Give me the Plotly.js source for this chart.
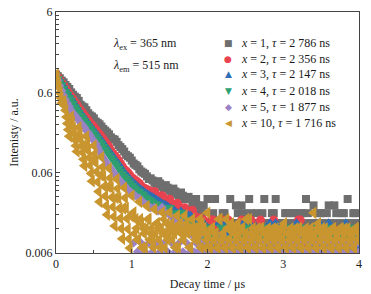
<!DOCTYPE html>
<html><head><meta charset="utf-8">
<script src="https://cdn.plot.ly/plotly-3.0.1.min.js"></script>
<style>html,body{margin:0;padding:0;background:#fff}#chart{width:371px;height:294px}</style>
</head><body><div id="chart"></div>
<script>
// Decay time (μs): main sampling, interleaved half-step sampling, and extra quarter-step sampling (x = 10)
const time = [0,0.05,0.1,0.15,0.2,0.25,0.3,0.35,0.4,0.45,0.5,0.55,0.6,0.65,0.7,0.75,0.8,0.85,0.9,0.95,1,1.05,1.1,1.15,1.2,1.25,1.3,1.35,1.4,1.45,1.5,1.55,1.6,1.65,1.7,1.75,1.8,1.85,1.9,1.95,2,2.05,2.1,2.15,2.2,2.25,2.3,2.35,2.4,2.45,2.5,2.55,2.6,2.65,2.7,2.75,2.8,2.85,2.9,2.95,3,3.05,3.1,3.15,3.2,3.25,3.3,3.35,3.4,3.45,3.5,3.55,3.6,3.65,3.7,3.75,3.8,3.85,3.9,3.95,4];
const timeHalf = [0.025,0.075,0.125,0.175,0.225,0.275,0.325,0.375,0.425,0.475,0.525,0.575,0.625,0.675,0.725,0.775,0.825,0.875,0.925,0.975,1.025,1.075,1.125,1.175,1.225,1.275,1.325,1.375,1.425,1.475,1.525,1.575,1.625,1.675,1.725,1.775,1.825,1.875,1.925,1.975,2.025,2.075,2.125,2.175,2.225,2.275,2.325,2.375,2.425,2.475,2.525,2.575,2.625,2.675,2.725,2.775,2.825,2.875,2.925,2.975,3.025,3.075,3.125,3.175,3.225,3.275,3.325,3.375,3.425,3.475,3.525,3.575,3.625,3.675,3.725,3.775,3.825,3.875,3.925,3.975];
const timeQuarter = [0.0125,0.0375,0.0625,0.0875,0.1125,0.1375,0.1625,0.1875,0.2125,0.2375,0.2625,0.2875,0.3125,0.3375,0.3625,0.3875,0.4125,0.4375,0.4625,0.4875,0.5125,0.5375,0.5625,0.5875,0.6125,0.6375,0.6625,0.6875,0.7125,0.7375,0.7625,0.7875,0.8125,0.8375,0.8625,0.8875,0.9125,0.9375,0.9625,0.9875,1.0125,1.0375,1.0625,1.0875,1.1125,1.1375,1.1625,1.1875,1.2125,1.2375,1.2625,1.2875,1.3125,1.3375,1.3625,1.3875,1.4125,1.4375,1.4625,1.4875,1.5125,1.5375,1.5625,1.5875,1.6125,1.6375,1.6625,1.6875,1.7125,1.7375,1.7625,1.7875,1.8125,1.8375,1.8625,1.8875,1.9125,1.9375,1.9625,1.9875];
const timeQuarterLate = [2.0125,2.0375,2.0625,2.0875,2.1125,2.1375,2.1625,2.1875,2.2125,2.2375,2.2625,2.2875,2.3125,2.3375,2.3625,2.3875,2.4125,2.4375,2.4625,2.4875,2.5125,2.5375,2.5625,2.5875,2.6125,2.6375,2.6625,2.6875,2.7125,2.7375,2.7625,2.7875,2.8125,2.8375,2.8625,2.8875,2.9125,2.9375,2.9625,2.9875,3.0125,3.0375,3.0625,3.0875,3.1125,3.1375,3.1625,3.1875,3.2125,3.2375,3.2625,3.2875,3.3125,3.3375,3.3625,3.3875,3.4125,3.4375,3.4625,3.4875,3.5125,3.5375,3.5625,3.5875,3.6125,3.6375,3.6625,3.6875,3.7125,3.7375,3.7625,3.7875,3.8125,3.8375,3.8625,3.8875,3.9125,3.9375,3.9625,3.9875];

const seriesNames = ['<i>x</i> = 1, <i>τ</i> = 2 786 ns','<i>x</i> = 2, <i>τ</i> = 2 356 ns','<i>x</i> = 3, <i>τ</i> = 2 147 ns','<i>x</i> = 4, <i>τ</i> = 2 018 ns','<i>x</i> = 5, <i>τ</i> = 1 877 ns','<i>x</i> = 10, <i>τ</i> = 1 716 ns'];

// x = 1
const x1 = [1.0,0.90,0.80,0.70,0.60,0.53,0.47,0.40,0.36,0.31,
0.285,0.25,0.225,0.20,0.18,0.158,0.145,0.125,0.11,0.096,
0.085,0.075,0.066,0.060,0.054,0.051,0.045,0.047,0.040,0.042,
0.036,0.038,0.032,0.034,0.028,0.030,0.0235,0.0282,0.0188,0.0235,
0.0282,0.0141,0.0282,0.0141,0.0188,0.0141,0.0282,0.0141,0.0188,0.0235,
0.0141,0.0282,0.0141,0.0188,0.0141,0.0282,0.0141,0.0188,0.0282,0.0141,
0.0141,0.0188,0.0141,0.0188,0.0141,0.0188,0.0282,0.0141,0.0235,0.0141,
0.0188,0.0141,0.0235,0.0141,0.0188,0.0141,0.0188,0.0282,0.0141,0.0188,
0.0141];
const x1Half = [0.95,0.84,0.74,0.66,0.56,0.51,0.42,0.39,0.33,0.30,
0.26,0.24,0.21,0.19,0.165,0.155,0.132,0.118,0.10,0.092,
0.078,0.072,0.062,0.058,0.050,0.048,0.043,0.044,0.038,0.039,
0.034,0.035,0.030,0.031,0.0282,0.0282,0.0235,0.0235,0.0188,0.0141,
0.0141,0.0188,0.0141,0.0141,0.0188,0.0141,0.0141,0.0235,0.0141,0.0188,
0.0141,0.0188,0.0141,0.0141,0.0188,0.0141,0.0141,0.0188,0.0141,0.0141,
0.0188,0.0141,0.0188,0.0141,0.0188,0.0141,0.0188,0.0141,0.0141,0.0188,
0.0141,0.0188,0.0141,0.0235,0.0141,0.0188,0.0141,0.0141,0.0188,0.0141];
// x = 2
const x2 = [1.0,0.86,0.73,0.62,0.53,0.45,0.385,0.335,0.29,0.25,
0.222,0.192,0.168,0.145,0.125,0.104,0.092,0.078,0.066,0.060,
0.052,0.048,0.044,0.039,0.037,0.034,0.035,0.030,0.031,0.027,
0.028,0.024,0.025,0.021,0.022,0.019,0.0205,0.0154,0.0165,0.0154,
0.0115,0.0154,0.0115,0.0077,0.0154,0.0115,0.0115,0.0077,0.0115,0.0154,
0.0115,0.0077,0.0115,0.0115,0.0154,0.0077,0.0115,0.0115,0.0077,0.0115,
0.0115,0.0077,0.0115,0.0115,0.0154,0.0115,0.0077,0.0115,0.0115,0.0077,
0.0115,0.0115,0.0115,0.0077,0.0115,0.0115,0.0077,0.0115,0.0115,0.0077,
0.0115];
const x2Half = [0.93,0.79,0.67,0.57,0.49,0.42,0.36,0.31,0.27,0.235,
0.205,0.18,0.155,0.135,0.113,0.098,0.085,0.072,0.063,0.056,
0.050,0.046,0.041,0.038,0.036,0.033,0.032,0.029,0.029,0.026,
0.025,0.023,0.023,0.020,0.0195,0.019,0.0175,0.0154,0.0154,0.0115,
0.0115,0.0154,0.0077,0.0115,0.0115,0.0154,0.0077,0.0115,0.0115,0.0077,
0.0115,0.0154,0.0077,0.0115,0.0115,0.0077,0.0115,0.0154,0.0115,0.0077,
0.0115,0.0115,0.0077,0.0115,0.0154,0.0077,0.0115,0.0115,0.0077,0.0115,
0.0115,0.0077,0.0115,0.0115,0.0077,0.0115,0.0115,0.0077,0.0115,0.0115];
// x = 3
const x3 = [1.0,0.84,0.70,0.59,0.50,0.42,0.36,0.31,0.265,0.23,
0.20,0.175,0.152,0.13,0.112,0.096,0.083,0.071,0.060,0.054,
0.047,0.043,0.039,0.036,0.033,0.031,0.029,0.027,0.025,0.024,
0.022,0.021,0.019,0.020,0.0178,0.0178,0.0143,0.0143,0.0107,0.0143,
0.0107,0.0107,0.0071,0.0143,0.0107,0.0143,0.0107,0.0071,0.0107,0.0107,
0.0071,0.0143,0.0107,0.0071,0.0107,0.0107,0.0071,0.0107,0.0143,0.0071,
0.0107,0.0107,0.0071,0.0107,0.0071,0.0107,0.0107,0.0071,0.0107,0.0107,
0.0071,0.0107,0.0143,0.0071,0.0107,0.0071,0.0107,0.0107,0.0071,0.0107,
0.0071];
const x3Half = [0.92,0.77,0.64,0.54,0.46,0.39,0.33,0.285,0.245,0.215,
0.187,0.163,0.14,0.12,0.104,0.089,0.077,0.065,0.057,0.050,
0.045,0.041,0.037,0.034,0.032,0.030,0.028,0.026,0.0245,0.023,
0.0215,0.020,0.0178,0.0178,0.0143,0.0178,0.0143,0.0107,0.0143,0.0107,
0.0107,0.0071,0.0107,0.0143,0.0107,0.0071,0.0107,0.0107,0.0071,0.0143,
0.0107,0.0071,0.0107,0.0107,0.0071,0.0107,0.0143,0.0071,0.0107,0.0107,
0.0071,0.0107,0.0107,0.0143,0.0071,0.0107,0.0107,0.0071,0.0107,0.0143,
0.0107,0.0071,0.0107,0.0107,0.0071,0.0107,0.0143,0.0107,0.0071,0.0107];
// x = 4
const x4 = [1.0,0.82,0.68,0.57,0.48,0.40,0.34,0.29,0.25,0.215,
0.185,0.16,0.138,0.118,0.10,0.086,0.074,0.063,0.054,0.048,
0.042,0.038,0.035,0.032,0.029,0.027,0.025,0.024,0.022,0.021,
0.0223,0.019,0.018,0.0195,0.016,0.015,0.0135,0.0135,0.012,0.0102,
0.0126,0.0094,0.0094,0.0063,0.0126,0.0094,0.0063,0.0094,0.0094,0.0126,
0.0063,0.0094,0.0094,0.0063,0.0094,0.0126,0.0094,0.0063,0.0094,0.0094,
0.0063,0.0094,0.0126,0.0094,0.0063,0.0094,0.0094,0.0063,0.0094,0.0126,
0.0094,0.0063,0.0094,0.0094,0.0063,0.0094,0.0126,0.0094,0.0063,0.0094,
0.0094];
const x4Half = [0.90,0.75,0.62,0.52,0.44,0.37,0.31,0.27,0.23,0.20,
0.172,0.148,0.128,0.109,0.093,0.08,0.068,0.058,0.051,0.045,
0.040,0.036,0.033,0.030,0.028,0.026,0.0245,0.023,0.0215,0.020,
0.019,0.0185,0.017,0.0165,0.0155,0.014,0.0126,0.0126,0.0094,0.0094,
0.0094,0.0063,0.0094,0.0126,0.0094,0.0063,0.0094,0.0094,0.0063,0.0094,
0.0126,0.0094,0.0063,0.0094,0.0094,0.0063,0.0094,0.0126,0.0094,0.0063,
0.0094,0.0094,0.0063,0.0094,0.0126,0.0094,0.0063,0.0094,0.0094,0.0063,
0.0094,0.0126,0.0094,0.0063,0.0094,0.0094,0.0063,0.0094,0.0126,0.0094];
// x = 5
const x5 = [1.0,0.72,0.55,0.44,0.36,0.31,0.27,0.235,0.20,0.175,
0.15,0.125,0.10,0.085,0.072,0.062,0.054,0.047,0.042,0.037,
0.034,0.031,0.029,0.026,0.024,0.022,0.0223,0.020,0.0223,0.019,
0.0178,0.016,0.0146,0.0146,0.0125,0.011,0.010,0.008,0.010,0.008,
0.0062,0.008,0.0062,0.008,0.010,0.0062,0.008,0.0062,0.008,0.0062,
0.008,0.010,0.0062,0.008,0.0062,0.008,0.0062,0.010,0.008,0.0062,
0.008,0.0062,0.008,0.0062,0.010,0.008,0.0062,0.008,0.0062,0.008,
0.0062,0.010,0.008,0.0062,0.008,0.0062,0.008,0.0062,0.010,0.008,
0.0062];
const x5Half = [0.85,0.63,0.49,0.40,0.33,0.29,0.25,0.22,0.19,0.16,
0.138,0.112,0.092,0.078,0.067,0.058,0.050,0.044,0.039,0.035,
0.008,0.0062,0.008,0.0062,0.008,0.0062,0.008,0.0062,0.008,0.0062,
0.008,0.0062,0.008,0.0062,0.008,0.0062,0.0062,0.0062,0.008,0.0062,
0.008,0.0062,0.008,0.0062,0.008,0.008,0.0062,0.008,0.0062,0.008,
0.0062,0.008,0.008,0.0062,0.008,0.0062,0.008,0.0062,0.0062,0.008,
0.0062,0.008,0.0062,0.008,0.0062,0.0062,0.008,0.0062,0.008,0.0062,
0.008,0.0062,0.0062,0.008,0.0062,0.008,0.0062,0.008,0.0062,0.008];
// x = 10
const x10 = [1.0,0.59,0.47,0.246,0.30,0.154,0.22,0.107,0.17,0.074,
0.13,0.046,0.094,0.0307,0.068,0.0225,0.05,0.0162,0.039,0.0119,
0.031,0.0158,0.026,0.0122,0.023,0.0105,0.021,0.0122,0.0193,0.0105,
0.0193,0.0122,0.0175,0.0105,0.0175,0.0122,0.0158,0.0105,0.0158,0.0122,
0.019,0.0122,0.0105,0.0158,0.0105,0.0158,0.0122,0.0105,0.014,0.0122,
0.0105,0.0158,0.0122,0.0105,0.0122,0.0105,0.0122,0.0105,0.0122,0.0105,
0.0122,0.0105,0.0122,0.0105,0.0122,0.0105,0.0122,0.0105,0.019,0.0122,
0.0105,0.0122,0.0105,0.0122,0.0105,0.0122,0.0105,0.0122,0.0105,0.0122,
0.0105];
const x10Half = [0.80,0.44,0.358,0.17,0.217,0.11,0.156,0.073,0.115,0.047,
0.080,0.026,0.0537,0.018,0.039,0.013,0.0288,0.009,0.0217,0.0069,
0.0193,0.0088,0.014,0.007,0.0158,0.0088,0.014,0.007,0.0158,0.0088,
0.014,0.007,0.0122,0.0088,0.014,0.007,0.0122,0.0088,0.014,0.007,
0.007,0.0088,0.007,0.0088,0.007,0.0088,0.007,0.0088,0.007,0.0088,
0.007,0.0088,0.007,0.0088,0.007,0.0088,0.007,0.0088,0.007,0.0088,
0.007,0.0088,0.007,0.0088,0.007,0.0088,0.007,0.0088,0.007,0.0088,
0.007,0.0088,0.007,0.0088,0.007,0.0088,0.007,0.0088,0.007,0.0088];
const x10Quarter = [0.90,0.69,0.51,0.449,0.41,0.296,0.206,0.243,0.257,0.183,
0.130,0.167,0.185,0.129,0.088,0.120,0.140,0.092,0.0587,0.086,
0.103,0.0617,0.0349,0.0558,0.0706,0.0404,0.0232,0.0402,0.0514,0.0296,
0.0170,0.0292,0.0380,0.0216,0.0121,0.0216,0.0292,0.0161,0.0090,0.0173,
0.0175,0.0105,0.0122,0.0088,0.0158,0.007,0.0105,0.0122,0.0158,0.0088,
0.0122,0.007,0.0105,0.014,0.0088,0.0122,0.0105,0.007,0.014,0.0105,
0.0122,0.0088,0.0105,0.0122,0.007,0.014,0.0105,0.0088,0.0122,0.0105,
0.007,0.0122,0.0105,0.0088,0.0122,0.0105,0.007,0.0122,0.0105,0.0088];
const x10QuarterLate = [0.0105,0.007,0.0122,0.0088,0.0105,0.007,0.0158,0.0088,0.0105,0.007,
0.0122,0.0088,0.014,0.007,0.0122,0.0088,0.0105,0.007,0.0122,0.0088,
0.0158,0.007,0.0105,0.0088,0.0105,0.007,0.0122,0.0088,0.0122,0.007,
0.0105,0.0088,0.0105,0.007,0.0122,0.0088,0.0105,0.007,0.0122,0.0088,
0.014,0.007,0.0105,0.0088,0.0105,0.007,0.0122,0.0088,0.0122,0.007,
0.0105,0.0088,0.0105,0.007,0.0122,0.0088,0.0105,0.007,0.014,0.0088,
0.0122,0.007,0.0105,0.0088,0.0105,0.007,0.0122,0.0088,0.0105,0.007,
0.0122,0.0088,0.0122,0.007,0.0105,0.0088,0.0105,0.007,0.0122,0.0088];

const yTicks = [0.006,0.06,0.6,6];
const yTickText = ['0.006','0.06','0.6','6'];
const yMinorTicks = [0.012,0.018,0.024,0.03,0.036,0.042,0.048,0.054,0.12,0.18,0.24,0.3,0.36,0.42,0.48,0.54,1.2,1.8,2.4,3,3.6,4.2,4.8,5.4];
const xTicks = [0,1,2,3,4];

const colors = ['#6e6e6e','#e8434f','#2f6db5','#2f9f72','#9a82c4','#c8952f'];
const symbols = ['square','circle','triangle-up','triangle-down','diamond','triangle-left'];
const legendGlyphs = ['■','●','▲','▼','◆','◀'];
const sizes = [8,9,9,9,7,11];

const seriesX = [
  time.concat(timeHalf), time.concat(timeHalf), time.concat(timeHalf),
  time.concat(timeHalf), time.concat(timeHalf), time.concat(timeHalf, timeQuarter, timeQuarterLate)];
const seriesY = [
  x1.concat(x1Half), x2.concat(x2Half), x3.concat(x3Half),
  x4.concat(x4Half), x5.concat(x5Half), x10.concat(x10Half, x10Quarter, x10QuarterLate)];

const traces = seriesY.map((y,i)=>({
  type:'scatter', mode:'markers', name: seriesNames[i], showlegend:false,
  x: seriesX[i], y: y, cliponaxis: true,
  marker:{symbol:symbols[i], size:sizes[i], color:colors[i], line:{width:0}}
}));

const fontFam = '"Liberation Serif", "Times New Roman", serif';
const txtColor = '#1a1a1a';
const annotations = [
  {xref:'paper', yref:'paper', x:0.18, y:0.867, xanchor:'left', yanchor:'middle', showarrow:false,
   text:'<i>λ</i><sub>ex</sub> = 365 nm', font:{family:fontFam, size:12, color:txtColor}},
  {xref:'paper', yref:'paper', x:0.18, y:0.776, xanchor:'left', yanchor:'middle', showarrow:false,
   text:'<i>λ</i><sub>em</sub> = 515 nm', font:{family:fontFam, size:12, color:txtColor}}
];
// hand-placed legend (rows 16 px apart as in the reference)
const legendRowY = [0.871,0.805,0.743,0.672,0.606,0.539];
seriesNames.forEach((nm,i)=>{
  annotations.push({xref:'paper', yref:'paper', x:0.5677, y:legendRowY[i], xanchor:'center', yanchor:'middle', showarrow:false,
    text:legendGlyphs[i], font:{family:'"DejaVu Sans", sans-serif', size:9, color:colors[i]}});
  annotations.push({xref:'paper', yref:'paper', x:0.604, y:legendRowY[i], xanchor:'left', yanchor:'middle', showarrow:false,
    text:nm, font:{family:fontFam, size:12, color:txtColor}});
});

const layout = {
  width:371, height:294,
  margin:{l:56, r:12, t:12, b:41},
  paper_bgcolor:'#ffffff', plot_bgcolor:'#ffffff',
  font:{family:fontFam, size:12, color:txtColor},
  showlegend:false,
  xaxis:{range:[0,4], tickvals:xTicks, ticks:'inside', ticklen:4, tickcolor:'#444',
    showline:true, mirror:true, linecolor:'#444', linewidth:1, showgrid:false, zeroline:false,
    minor:{dtick:0.5, tick0:0, ticks:'inside', ticklen:3, tickcolor:'#444'},
    title:{text:'Decay time / μs', standoff:9, font:{family:fontFam, size:12}}},
  yaxis:{type:'log', range:[Math.log10(0.006), Math.log10(6)], tickmode:'array', tickvals:yTicks, ticktext:yTickText,
    ticks:'inside', ticklen:4, tickcolor:'#444',
    showline:true, mirror:true, linecolor:'#444', linewidth:1, showgrid:false, zeroline:false,
    minor:{tickmode:'array', tickvals:yMinorTicks, ticks:'inside', ticklen:3, tickcolor:'#444'},
    title:{text:'Intenisty / a.u.', standoff:4, font:{family:fontFam, size:12}}},
  annotations: annotations
};
Plotly.newPlot('chart', traces, layout, {displayModeBar:false, staticPlot:true});
</script></body></html>
